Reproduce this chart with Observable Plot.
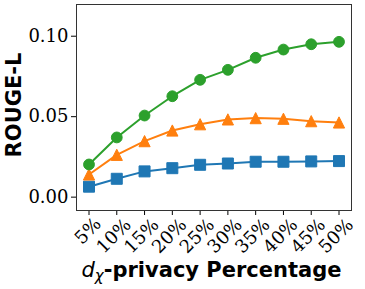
<!DOCTYPE html>
<html>
<head>
<meta charset="utf-8">
<script src="https://cdn.jsdelivr.net/npm/d3@7"></script>
<script src="https://cdn.jsdelivr.net/npm/@observablehq/plot@0.6"></script>
<style>
  html, body { margin: 0; padding: 0; background: white; }
</style>
</head>
<body>
<div id="chart"></div>
<script>
// ---- data ----
const percents = [5, 10, 15, 20, 25, 30, 35, 40, 45, 50];
const xTickLabels = ["5%", "10%", "15%", "20%", "25%", "30%", "35%", "40%", "45%", "50%"];
const yTicks = [0.00, 0.05, 0.10];
const blueValues   = [0.0065, 0.0114, 0.0160, 0.0180, 0.0201, 0.0209, 0.0220, 0.0220, 0.0222, 0.0224];
const orangeValues = [0.0141, 0.0263, 0.0348, 0.0414, 0.0453, 0.0483, 0.0491, 0.0487, 0.0472, 0.0464];
const greenValues  = [0.0203, 0.0371, 0.0507, 0.0627, 0.0729, 0.0791, 0.0866, 0.0917, 0.0950, 0.0965];
const yLabel = "ROUGE-L";

const blue = "#1f77b4", orange = "#ff7f0e", green = "#2ca02c";

const rows = (vals) => percents.map((p, i) => ({pct: p, value: vals[i]}));
const tickRows = percents.map((p, i) => ({pct: p, label: xTickLabels[i]}));

// matplotlib-like marker shapes
const squareSym = { draw(ctx, size) { const a = Math.sqrt(size / Math.PI); ctx.moveTo(-a, -a); ctx.lineTo(a, -a); ctx.lineTo(a, a); ctx.lineTo(-a, a); ctx.closePath(); } };
const triSym = { draw(ctx, size) { const a = Math.sqrt(size / Math.PI); ctx.moveTo(0, -a); ctx.lineTo(a, a); ctx.lineTo(-a, a); ctx.closePath(); } };

const series = [
  {vals: blueValues, color: blue, symbol: squareSym, r: 5.5},
  {vals: orangeValues, color: orange, symbol: triSym, r: 5.6},
  {vals: greenValues, color: green, symbol: "circle", r: 5.4}
];

const serif = "DejaVu Serif";
const marks = [
  Plot.axisY({ticks: yTicks, tickSize: 5, tickFormat: () => "", label: null}),
  Plot.axisX({ticks: percents, tickSize: 5, tickFormat: () => "", label: null}),
  Plot.text(yTicks, {y: d => d, text: d3.format(".2f"), frameAnchor: "left", textAnchor: "end", lineAnchor: "middle", dx: -8, fontSize: 18, fontFamily: serif, fill: "black"}),
  Plot.text(tickRows.filter(d => d.label.length === 2), {x: "pct", text: "label", frameAnchor: "bottom", rotate: -45, textAnchor: "middle", lineAnchor: "middle", dy: 20.5, dx: -1, fontSize: 18, fontFamily: serif, fill: "black"}),
  Plot.text(tickRows.filter(d => d.label.length !== 2), {x: "pct", text: "label", frameAnchor: "bottom", rotate: -45, textAnchor: "middle", lineAnchor: "middle", dy: 25.5, dx: -3, fontSize: 18, fontFamily: serif, fill: "black"})
];
for (const s of series) {
  marks.push(Plot.line(rows(s.vals), {x: "pct", y: "value", stroke: s.color, strokeWidth: 2}));
  marks.push(Plot.dot(rows(s.vals), {x: "pct", y: "value", fill: s.color, stroke: s.color, strokeWidth: 1, symbol: () => s.symbol, r: s.r}));
}
marks.push(Plot.frame({stroke: "#333", strokeWidth: 1}));

const chart = Plot.plot({
  width: 365,
  height: 289,
  marginLeft: 76,
  marginRight: 14,
  marginTop: 4,
  marginBottom: 79,
  style: {fontFamily: serif, fontSize: "18px", color: "black", background: "white", overflow: "visible"},
  x: {type: "linear", domain: [2.75, 52.25]},
  y: {type: "linear", domain: [-0.0083, 0.1197]},
  symbol: {type: "identity"},
  marks
});

// y-axis label
d3.select(chart).append("text")
  .attr("transform", "translate(14,105) rotate(-90)")
  .attr("text-anchor", "middle")
  .attr("dominant-baseline", "central")
  .attr("fill", "black")
  .style("font-family", "DejaVu Sans")
  .style("font-weight", "bold")
  .style("font-size", "21px")
  .text(yLabel);

// x-axis label with math-style "d_χ"
const t = d3.select(chart).append("text")
  .attr("x", 211.5).attr("y", 277)
  .attr("text-anchor", "middle")
  .attr("fill", "black")
  .style("font-family", "DejaVu Sans")
  .style("font-size", "21px");
t.append("tspan").style("font-style", "italic").text("d");
t.append("tspan").style("font-style", "italic").style("font-size", "15px").attr("dy", 4).text("χ");
t.append("tspan").style("font-weight", "bold").attr("dy", -4).text("-privacy Percentage");

document.getElementById("chart").appendChild(chart);
</script>
</body>
</html>
